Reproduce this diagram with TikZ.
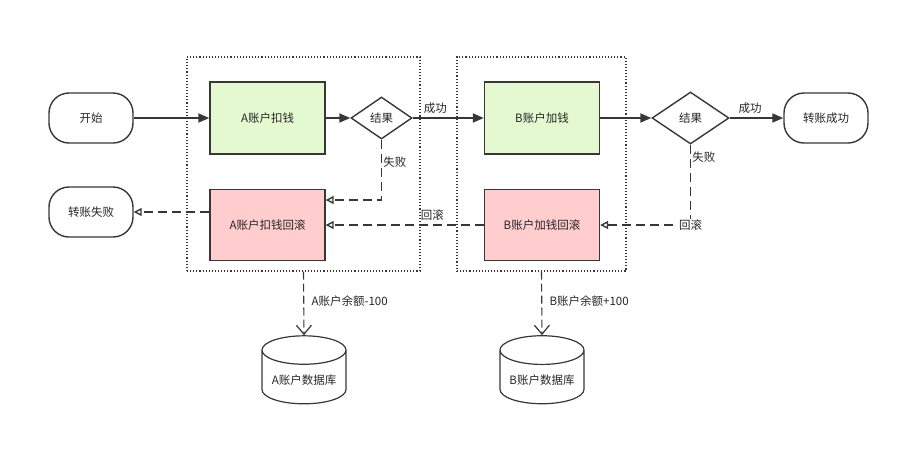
\documentclass[tikz,border=0pt]{standalone}
\usepackage{fontspec}
\newfontfamily\cjk{Noto Sans CJK SC}
\usetikzlibrary{shapes.geometric,arrows.meta}
\definecolor{okgreen}{RGB}{228,249,208}
\definecolor{rbpink}{RGB}{255,205,205}
\definecolor{edge}{RGB}{55,55,55}

\begin{document}
\begin{tikzpicture}[x=1pt,y=-1pt,
    every node/.style={font=\cjk\fontsize{11.5}{13}\selectfont,text=black!85},
    terminal/.style={draw=edge,line width=1.4pt,rounded corners=20pt,minimum width=84pt,minimum height=50pt},
    stepbox/.style={draw=edge,line width=1.4pt,minimum width=115pt,minimum height=72pt},
    choice/.style={draw=edge,line width=1.4pt,diamond,inner sep=0pt},
    store/.style={draw=edge,line width=1.2pt,cylinder,shape border rotate=90,aspect=0.4,minimum width=84pt,minimum height=68pt},
    group/.style={draw=edge,dotted,line width=1.1pt,minimum width=233pt,minimum height=214pt},
    flow/.style={draw=edge,line width=1.8pt,-{Triangle[length=11pt,width=9pt]}},
    undo/.style={draw=edge,line width=1.8pt,dash pattern=on 9pt off 5pt,-{Triangle[open,length=8pt,width=8pt,line width=1.4pt]}},
    save/.style={draw=edge,line width=1.1pt,dash pattern=on 8pt off 4pt,-{Straight Barb[length=9pt,width=15pt,line width=1.2pt]}}]
  \useasboundingbox (0,0) rectangle (917,464);

  % transaction frames
  \node[group] (grpA) at (303.5,164) {};
  \node[group,minimum width=169pt] (grpB) at (541.5,164) {};

  \node[terminal] (start) at (91,118) {开始};
  \node[stepbox,fill=okgreen] (debitA) at (267.5,118) {A账户扣钱};
  \node[choice,minimum width=61pt,minimum height=42pt] (res1) at (381.5,118) {结果};
  \node[stepbox,fill=okgreen] (creditB) at (542,118) {B账户加钱};
  \node[choice,minimum width=77pt,minimum height=52pt] (res2) at (690.5,118) {结果};
  \node[terminal] (done) at (826,118) {转账成功};

  \node[terminal] (fail) at (91,212) {转账失败};
  \node[stepbox,fill=rbpink,minimum height=71pt] (rbA) at (267.5,225) {A账户扣钱回滚};
  \node[stepbox,fill=rbpink,minimum height=71pt] (rbB) at (542,225) {B账户加钱回滚};

  \node[store] (dbA) at (304,380) {A账户数据库};
  \node[store] (dbB) at (542,380) {B账户数据库};

  % main flow
  \draw[flow] (start) -- (debitA);
  \draw[flow] (debitA) -- (res1);
  \draw[flow] (res1) -- node[above,pos=0.32] {成功} (creditB);
  \draw[flow] (creditB) -- (res2);
  \draw[flow] (res2) -- node[above,pos=0.38] {成功} (done);

  % rollback
  \draw[undo] (res1.south) -- node[right,pos=0.38,inner sep=1pt] {失败} (res1.south |- 0,200) -- ([yshift=25pt]rbA.east);
  \draw[undo] (res2.south) -- node[right,pos=0.16,inner sep=1pt] {失败} (res2.south |- rbB.east)
    node[fill=white,inner sep=1pt] {回滚} -- (rbB.east);
  \draw[undo] (rbB.west) -- node[above,pos=0.325] {回滚} (rbA.east);
  \draw[undo] (rbA.west |- fail.east) -- (fail.east);

  % balances
  \draw[save] (grpA.south) -- node[right,pos=0.47,xshift=4pt] {A账户余额-100} (dbA.top);
  \draw[save] (grpB.south) -- node[right,pos=0.47,xshift=4pt] {B账户余额+100} (dbB.top);
\end{tikzpicture}
\end{document}
